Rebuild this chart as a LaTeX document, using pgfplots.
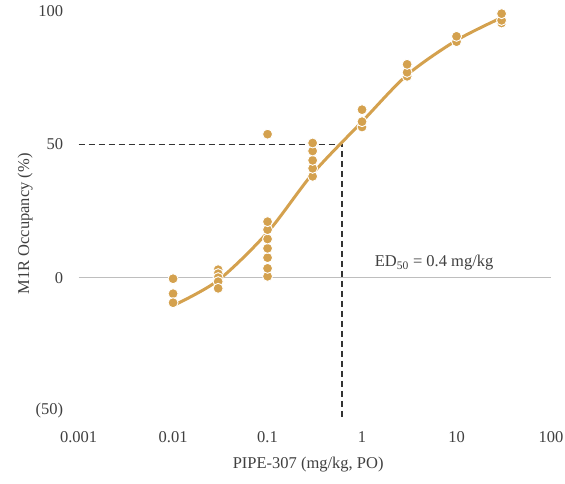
\documentclass[border=0pt]{standalone}
\usepackage{pgfplots}
\pgfplotsset{compat=1.18}
\usepackage{fontspec}
\setmainfont{Liberation Serif}
\definecolor{gold}{RGB}{212,161,78}
\definecolor{zline}{RGB}{190,190,190}
\begin{document}
\begin{tikzpicture}
\path[use as bounding box] (0,0) rectangle (565bp,484bp);
\begin{axis}[
  at={(78.6bp,73bp)}, anchor=south west,
  scale only axis, width=472.4bp, height=400bp,
  xmode=log, xmin=0.001, xmax=100, ymin=-50, ymax=100,
  axis line style={draw=none}, major tick length=0pt, minor tick length=0pt,
  xminorticks=false, yminorticks=false,
  xtick={0.001,0.01,0.1,1,10,100},
  xticklabels={0.001,0.01,0.1,1,10,100},
  ytick={-50,0,50,100},
  yticklabels={(50),0,50,100},
  /pgf/number format/assume math mode=true,
  tick label style={font=\fontsize{16.5bp}{19bp}\selectfont, text=black!75},
  xticklabel style={yshift=-17bp},
  yticklabel style={xshift=-12bp},
  label style={font=\fontsize{16.5bp}{19bp}\selectfont, text=black!75},
  xlabel={PIPE-307 (mg/kg, PO)},
  ylabel={M1R Occupancy (\%)},
  xlabel style={at={(axis description cs:0.486,-0.135)}, anchor=center},
  ylabel style={at={(axis description cs:-0.113,0.4675)}, anchor=center, rotate=0},
  clip=false,
]
\addplot[zline, line width=1.5bp] coordinates {(0.001,0) (100,0)};
\addplot[black!80, line width=1.4bp, dash pattern=on 6bp off 4bp] coordinates {(0.001,50) (0.614,50) (0.614,-53)};
\addplot[gold, line width=3bp, smooth, tension=0.5] coordinates {
(0.01,-10.5) (0.03,-1) (0.1,17) (0.3,39) (1,58.5) (3,76) (10,89) (30,97.5)};
\addplot[only marks, mark=*, mark size=5bp, mark options={fill=gold, draw=white, line width=0.9bp}] coordinates {
(0.01,-0.4) (0.01,-6) (0.01,-9.4)
(0.03,3) (0.03,1.5) (0.03,0) (0.03,-1.5) (0.03,-4)
(0.1,0.5) (0.1,3.5) (0.1,7.5) (0.1,11) (0.1,14.5) (0.1,18) (0.1,21) (0.1,53.8)
(0.3,38) (0.3,41) (0.3,44) (0.3,47.5) (0.3,50.5)
(1,56.5) (1,58.5) (1,63)
(3,75.5) (3,77) (3,80)
(10,88.5) (10,90.5)
(30,95.5) (30,96.5) (30,99)
};
\node[font=\fontsize{16.5bp}{19bp}\selectfont, text=black!75, anchor=center] at (axis cs:5.8,5.6) {ED\textsubscript{50} = 0.4 mg/kg};
\end{axis}
\end{tikzpicture}
\end{document}
